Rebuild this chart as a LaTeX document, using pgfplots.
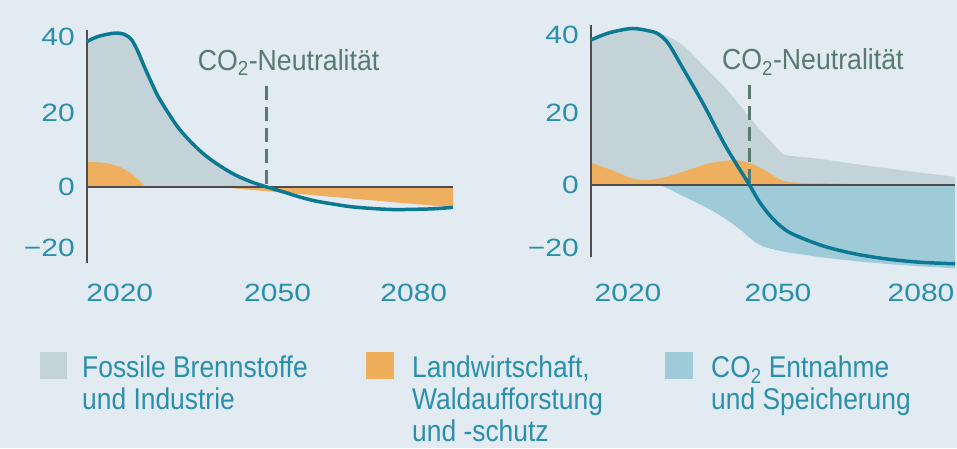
\documentclass[border=0pt]{standalone}
\usepackage{pgfplots}
\pgfplotsset{compat=1.18}
\usepgfplotslibrary{fillbetween}
\usepackage{graphicx}
\usepackage{fontspec}
\setmainfont{Liberation Sans}

\definecolor{bg}{HTML}{E2EBF2}
\definecolor{fossil}{HTML}{C3D3D8}
\definecolor{agri}{HTML}{EEB05E}
\definecolor{ccs}{HTML}{9FCBD9}
\definecolor{netline}{HTML}{0B7994}
\definecolor{ticktxt}{HTML}{2A8FAB}
\definecolor{neutral}{HTML}{587A70}
\definecolor{axline}{HTML}{4D4D4D}

\newcommand{\tlab}[1]{\scalebox{1.2}[1]{#1}}
\newcommand{\lgd}[1]{\scalebox{0.88}[1]{#1}}

\pgfplotsset{
  panel/.style={
    scale only axis, clip=false,
    axis line style={draw=none},
    major tick length=0pt,
    tick style={draw=none},
    tick label style={font=\fontsize{25}{30}\selectfont, text=ticktxt},
    yticklabel style={anchor=east, inner sep=0pt, xshift=-12pt},
    xticklabel style={anchor=center, inner sep=0pt},
  },
  curve/.style={netline, line width=3.5pt, smooth},
}

\begin{document}
\begin{tikzpicture}
\fill[bg] (0,0) rectangle (957pt,448pt);

% ---------------- left panel ----------------
\begin{axis}[panel,
  at={(87pt,185pt)}, anchor=south west,
  width=366pt, height=233pt,
  xmin=2013.3, xmax=2088, ymin=-20.54, ymax=42.43,
  xtick={2020,2052.2,2080}, xticklabels={\tlab{2020},\tlab{2050},\tlab{2080}},
  ytick={-16.5,0,19.9,40.6}, yticklabels={\tlab{−20},\tlab{0},\tlab{20},\tlab{40}},
  xticklabel style={yshift=-29.5pt},
]
\addplot[draw=none, name path=zeroL] coordinates {(2013.3,0) (2088,0)};
\addplot[draw=none, smooth, name path=curveL] coordinates {
 (2013.3,39.3) (2015.6,40.7) (2019.0,41.6) (2021.0,41.2) (2022.4,39.8)
 (2023.7,36.6) (2025.1,32.2) (2026.5,28.1) (2027.8,24.5) (2029.9,20.0)
 (2032.0,15.9) (2034.7,11.9) (2037.3,8.7) (2040.1,6.0) (2043.5,3.3)
 (2046.9,1.35) (2050,0) (2053.7,-1.45) (2056.7,-2.7) (2060,-3.8)
 (2063.5,-4.6) (2067,-5.3) (2070.4,-5.7) (2074,-6.0) (2077.1,-6.1)
 (2083.9,-5.9) (2088,-5.5)};
\addplot[draw=none, smooth, name path=agriPosL] coordinates {
 (2013.3,6.8) (2016.9,6.5) (2019.6,5.6) (2021.7,4.2) (2023.4,2.4)
 (2024.8,0.6) (2025.1,0)};
\addplot[draw=none, smooth, name path=agriNegL] coordinates {
 (2040.1,0) (2043.5,-0.5) (2046.9,-0.9) (2050,-1.5) (2053.7,-2.3)
 (2056.7,-3.2) (2060,-4.0) (2063.5,-4.7) (2067,-5.3) (2070.4,-5.8)
 (2074,-6.0) (2077.1,-6.1) (2083.9,-5.9) (2088,-5.5)};
\addplot[fossil] fill between[of=curveL and zeroL, soft clip={domain=2013.3:2050}, on layer=main];
\addplot[agri] fill between[of=agriPosL and zeroL, soft clip={domain=2013.3:2025.1}, on layer=main];
\addplot[agri] fill between[of=agriNegL and zeroL, soft clip={domain=2040.1:2088}, on layer=main];
\draw[axline, line width=1.5pt] (axis cs:2013.3,0) -- (axis cs:2088,0);
\draw[axline, line width=1.3pt] (rel axis cs:0,0) -- (rel axis cs:0,1);
\draw[neutral, line width=3pt, dash pattern=on 14pt off 7pt] (axis cs:2050,27.3) -- (axis cs:2050,0);
\addplot[curve] coordinates {
 (2013.3,39.3) (2015.6,40.7) (2019.0,41.6) (2021.0,41.2) (2022.4,39.8)
 (2023.7,36.6) (2025.1,32.2) (2026.5,28.1) (2027.8,24.5) (2029.9,20.0)
 (2032.0,15.9) (2034.7,11.9) (2037.3,8.7) (2040.1,6.0) (2043.5,3.3)
 (2046.9,1.35) (2050,0) (2053.7,-1.45) (2056.7,-2.7) (2060,-3.8)
 (2063.5,-4.6) (2067,-5.3) (2070.4,-5.7) (2074,-6.0) (2077.1,-6.1)
 (2083.9,-5.9) (2088,-5.5)};
\node[anchor=base west, inner sep=0pt, text=neutral, font=\fontsize{29}{34}\selectfont]
  at (axis cs:2035.9,31.6) {\scalebox{0.92}[1]{CO\smash{\textsubscript{2}}-Neutralität}};
\end{axis}

% ---------------- right panel ----------------
\begin{axis}[panel,
  at={(591pt,191pt)}, anchor=south west,
  width=364pt, height=232pt,
  xmin=2013.4, xmax=2086.2, ymin=-19.46, ymax=43.24,
  xtick={2020.8,2050.8,2079.4}, xticklabels={\tlab{2020},\tlab{2050},\tlab{2080}},
  ytick={-17.1,0,19.4,40.5}, yticklabels={\tlab{−20},\tlab{0},\tlab{20},\tlab{40}},
  xticklabel style={yshift=-35.5pt},
]
\addplot[draw=none, name path=zeroR] coordinates {(2013.4,0) (2086.2,0)};
\addplot[draw=none, smooth, name path=fossR] coordinates {
 (2013.4,39.2) (2015.5,40.4) (2017.8,41.4) (2021.8,42.3) (2025.8,41.6)
 (2027.2,41.0) (2029,40.0) (2031.2,38.3) (2033,36.3) (2034.6,34.0)
 (2037.8,29.6) (2040.5,25.9) (2043.5,21.0) (2046.5,16.0) (2049.9,11.0)
 (2051.9,8.3) (2053.2,7.9) (2059.9,6.9) (2066.5,5.6) (2073.2,4.4)
 (2079.5,3.3) (2086.2,2.2)};
\addplot[draw=none, smooth, name path=agriR] coordinates {
 (2013.4,6.1) (2015.5,5.0) (2017.8,3.9) (2020,2.6) (2021.2,1.9)
 (2023.8,1.3) (2025.5,1.4) (2027.8,2.0) (2030,2.8) (2033.2,4.2)
 (2037.2,5.9) (2041.9,6.7) (2045.2,5.9) (2047.9,4.2) (2050.5,2.0)
 (2052.5,0.9) (2056.5,0.5) (2061,0.4) (2066.5,0.25) (2072,0.1) (2076,0)};
\addplot[draw=none, smooth, name path=ccsR] coordinates {
 (2027.2,0) (2029,-1.1) (2031.2,-2.6) (2033.2,-3.9) (2036.5,-6.1)
 (2039.9,-8.8) (2043.2,-12.0) (2045.9,-15.1) (2047.8,-16.6)
 (2049.9,-17.4) (2053.2,-18.3) (2059.9,-19.6) (2066.5,-20.6)
 (2073.2,-21.4) (2079.5,-22.0) (2086.2,-22.5)};
\addplot[fossil] fill between[of=fossR and zeroR, on layer=main];
\addplot[agri] fill between[of=agriR and zeroR, soft clip={domain=2013.4:2076}, on layer=main];
\addplot[ccs] fill between[of=ccsR and zeroR, soft clip={domain=2027.2:2086.2}, on layer=main];
\draw[axline, line width=1.5pt] (axis cs:2013.4,0) -- (axis cs:2086.2,0);
\draw[axline, line width=1.3pt] (rel axis cs:0,0) -- (rel axis cs:0,1);
\draw[neutral, line width=3pt, dash pattern=on 14pt off 7pt] (axis cs:2045,27.0) -- (axis cs:2045,0);
\addplot[curve] coordinates {
 (2013.4,39.2) (2015.5,40.4) (2017.8,41.4) (2021.8,42.3) (2025.8,41.4)
 (2027.2,40.5) (2028.6,38.7) (2029.9,36.0) (2031.2,32.9) (2034.2,25.9)
 (2036.5,20.3) (2039.9,11.5) (2042.5,5.6) (2045.1,0) (2047.2,-4.8)
 (2049.9,-9.3) (2053.2,-12.9) (2059.9,-16.5) (2066.5,-18.7)
 (2073.2,-20.1) (2079.5,-20.9) (2086.2,-21.3)};
\node[anchor=base west, inner sep=0pt, text=neutral, font=\fontsize{29}{34}\selectfont]
  at (axis cs:2039.6,31.1) {\scalebox{0.92}[1]{CO\smash{\textsubscript{2}}-Neutralität}};
\end{axis}

% ---------------- legend ----------------
\begin{scope}[x=1pt, y=-1pt, shift={(0pt,448pt)},
  lt/.style={anchor=base west, inner sep=0pt, text=ticktxt, font=\fontsize{30}{36}\selectfont}]
\fill[fossil] (40,352) rectangle (67,379);
\fill[agri!95!orange] (366,352) rectangle (394,379);
\fill[ccs] (665,352) rectangle (693,379);
\node[lt] at (82,377) {\lgd{Fossile Brennstoffe}};
\node[lt] at (82,409) {\lgd{und Industrie}};
\node[lt] at (412,377) {\lgd{Landwirtschaft,}};
\node[lt] at (412,409) {\lgd{Waldaufforstung}};
\node[lt] at (412,441) {\lgd{und -schutz}};
\node[lt] at (711,377) {\lgd{CO\smash{\textsubscript{2}} Entnahme}};
\node[lt] at (711,409) {\lgd{und Speicherung}};
\end{scope}

\pgfresetboundingbox
\path[use as bounding box] (0,0) rectangle (957pt,448pt);
\end{tikzpicture}
\end{document}
